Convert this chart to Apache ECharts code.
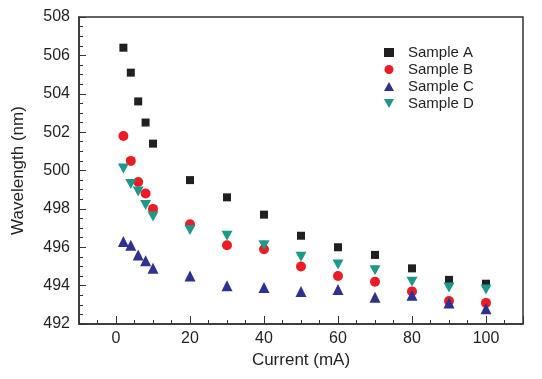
<!DOCTYPE html>
<html><head><meta charset="utf-8">
<script src="https://cdn.jsdelivr.net/npm/echarts@6/dist/echarts.min.js"></script>
<style>html,body{margin:0;padding:0;background:#fff}#c{width:542px;height:379px}</style>
</head><body><div id="c"></div>
<script>
var currents = [2, 4, 6, 8, 10, 20, 30, 40, 50, 60, 70, 80, 90, 100];
var sampleA = [506.4, 505.1, 503.6, 502.5, 501.4, 499.5, 498.6, 497.7, 496.6, 496.0, 495.6, 494.9, 494.3, 494.1];
var sampleB = [501.8, 500.5, 499.4, 498.8, 498.0, 497.2, 496.1, 495.9, 495.0, 494.5, 494.2, 493.7, 493.2, 493.1];
var sampleC = [496.3, 496.1, 495.6, 495.3, 494.9, 494.5, 494.0, 493.9, 493.7, 493.8, 493.4, 493.5, 493.1, 492.8];
var sampleD = [500.1, 499.3, 498.9, 498.2, 497.6, 496.9, 496.6, 496.1, 495.5, 495.1, 494.8, 494.2, 493.9, 493.8];
var names = ['Sample A', 'Sample B', 'Sample C', 'Sample D'];
var xTickLabels = [0, 20, 40, 60, 80, 100];

function pairs(v){ return currents.map(function(x,i){ return [x, v[i]]; }); }
var font = 'Liberation Sans, Arial, sans-serif';
var ink = '#333';
var chart = echarts.init(document.getElementById('c'));
var styles = [
  {symbol:'rect', size:8, color:'#231f20'},
  {symbol:'circle', size:10, color:'#ed1c24'},
  {symbol:'triangle', size:11, color:'#2e3192'},
  {symbol:'path://M0,0 L10,0 L5,9 Z', size:[11,10], color:'#1b998b'}
];
var data = [sampleA, sampleB, sampleC, sampleD];
chart.setOption({
  animation:false,
  grid:[
    {left:79, right:19, top:17, bottom:55, show:true, borderColor:ink, borderWidth:1.5},
    {left:116, right:19, top:17, bottom:55, show:false}
  ],
  legend:{
    orient:'vertical', left:379, top:40, itemGap:2, itemWidth:10, itemHeight:9,
    textStyle:{fontFamily:font, fontSize:15, color:'#231f20', padding:[0,0,0,9]},
    data: names.map(function(n,i){ return {name:n, icon:styles[i].symbol,
      itemStyle:{color:styles[i].color, opacity:1}}; })
  },
  xAxis:[
    {type:'value', gridIndex:0, min:-10, max:110, interval:5,
     name:'Current (mA)', nameLocation:'middle', nameGap:27,
     nameTextStyle:{fontFamily:font, fontSize:17, color:'#231f20'},
     axisLine:{onZero:false, lineStyle:{color:ink, width:1.5}},
     axisTick:{inside:true, length:4, lineStyle:{color:ink}},
     splitLine:{show:false},
     axisLabel:{fontFamily:font, fontSize:16, color:'#231f20', margin:7,
       formatter:function(v){ return xTickLabels.indexOf(v) >= 0 ? String(v) : ''; }}
    },
    {type:'value', gridIndex:1, min:0, max:110, interval:20,
     axisLine:{show:false, onZero:false}, axisLabel:{show:false}, splitLine:{show:false},
     axisTick:{inside:true, length:8, lineStyle:{color:ink}}}
  ],
  yAxis:[
    {type:'value', gridIndex:0, min:492, max:508, interval:2,
     name:'Wavelength (nm)', nameLocation:'middle', nameGap:52,
     nameTextStyle:{fontFamily:font, fontSize:17, color:'#231f20'},
     axisLine:{onZero:false, lineStyle:{color:ink, width:1.5}},
     axisTick:{inside:true, length:7, lineStyle:{color:ink}},
     minorTick:{show:true, splitNumber:4, length:4, lineStyle:{color:ink}},
     splitLine:{show:false},
     axisLabel:{fontFamily:font, fontSize:16, color:'#231f20', margin:9}
    },
    {type:'value', gridIndex:1, min:492, max:508, show:false,
     axisLine:{show:false, onZero:false}, splitLine:{show:false}}
  ],
  series: data.map(function(v,i){
    return {type:'scatter', name:names[i], xAxisIndex:0, yAxisIndex:0,
      symbol:styles[i].symbol, symbolSize:styles[i].size,
      itemStyle:{color:styles[i].color, opacity:1}, data:pairs(v)};
  })
});
</script></body></html>
